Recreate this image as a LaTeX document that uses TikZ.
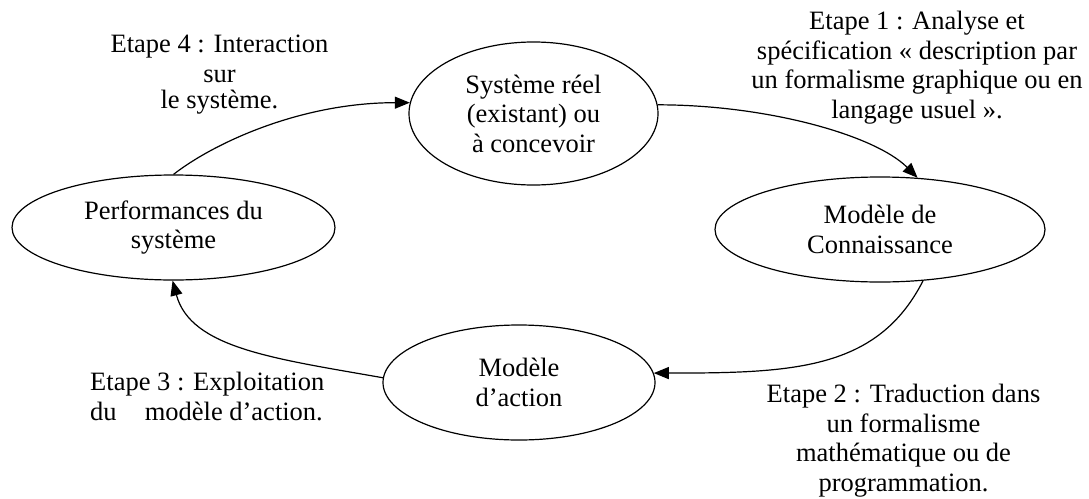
\documentclass[tikz,border=0pt]{standalone}
\usepackage{fontspec}
\setmainfont{Liberation Serif}
\usetikzlibrary{shapes.geometric,arrows.meta}

\tikzset{
  etat/.style={ellipse, draw, line width=1.2pt, inner sep=0pt, align=center},
  fleche/.style={line width=1.2pt, -{Triangle[length=15pt,width=12pt]}},
  etape/.style={inner sep=0pt, anchor=north, align=center},
}

\begin{document}
\begin{tikzpicture}[x=1pt, y=1pt, font={\fontsize{26.5}{29.5}\selectfont}]
\useasboundingbox (0,0) rectangle (1089,-498);

% the four states of the cycle
\node[etat, minimum width=249pt, minimum height=143pt] (sys)  at (533.5,-113.5)
  {Système réel\\(existant) ou\\à concevoir};
\node[etat, minimum width=330pt, minimum height=105pt] (conn) at (880,-229.5)
  {Modèle de\\Connaissance};
\node[etat, minimum width=272pt, minimum height=115pt] (act)  at (519,-382.5)
  {Modèle\\d’action};
\node[etat, minimum width=323pt, minimum height=105pt] (perf) at (173.5,-227.5)
  {Performances du\\système};

% step labels
\node[etape] (e1) at (917,-11)
  {Etape 1 : Analyse et\\spécification «~description par\\un formalisme graphique ou en\\langage usuel~».};
\node[etape] (e2) at (903.5,-384)
  {Etape 2 : Traduction dans\\un formalisme\\mathématique ou de\\programmation.};
\node[etape, anchor=north west, align=left] (e3) at (90,-372)
  {Etape 3 : Exploitation\\du\hspace*{0.81em} modèle d’action.};
\node[etape] (e4) at (219.5,-35)
  {Etape 4 : Interaction\\sur\\[-3pt]le système.};

% transitions
\draw[fleche] (perf.north) .. controls +(38:50) and +(180:110) .. (sys.175);
\draw[fleche] (sys.4) .. controls +(0:110) and +(135:60) .. (conn.54);
\draw[fleche] (conn.-50) .. controls +(243:100) and +(0:140) .. (act.4);
\draw[fleche] (act.178) .. controls +(170:110) and +(-75:70) .. (perf.-91);
\end{tikzpicture}
\end{document}
